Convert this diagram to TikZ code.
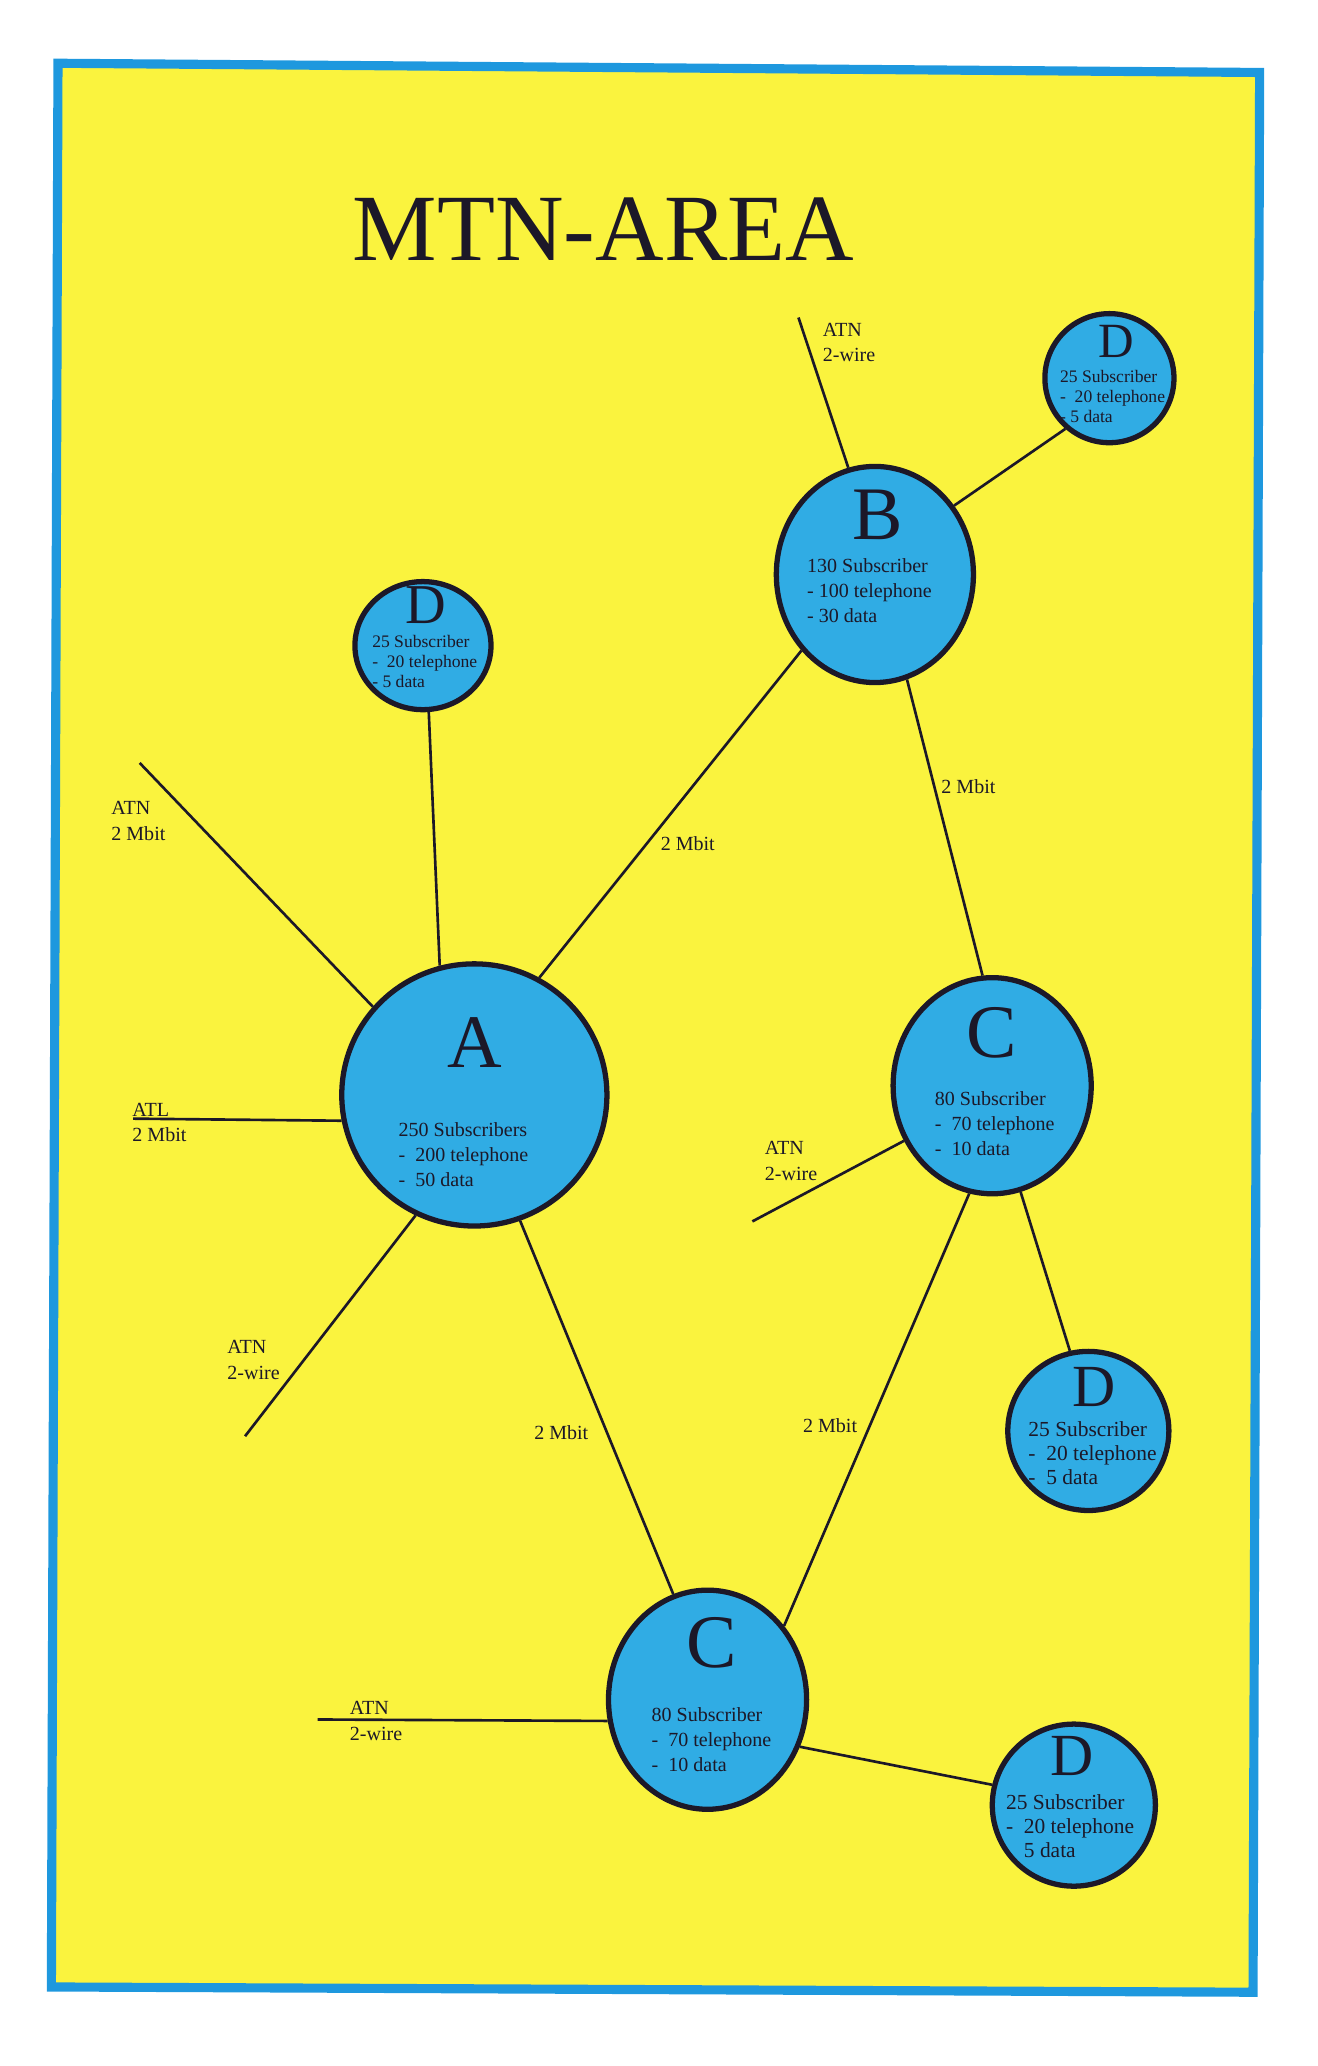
\documentclass[tikz,border=0pt]{standalone}
\usepackage{fontspec}
\setmainfont{Liberation Serif}
\usetikzlibrary{shapes.geometric}

\definecolor{areayellow}{RGB}{250,243,62}
\definecolor{areablue}{RGB}{30,152,222}
\definecolor{nodeblue}{RGB}{48,172,228}
\definecolor{inkdark}{RGB}{28,24,40}

\tikzset{
  exchange/.style={ellipse,draw=inkdark,line width=1.5pt,fill=nodeblue,inner sep=0pt},
  letter/.style={font=\fontsize{#1}{#1}\selectfont,text=inkdark,inner sep=0pt},
  info/.style={font=\fontsize{5.7}{7.1}\selectfont,align=left,anchor=west,text=inkdark,inner sep=0pt},
  smallinfo/.style={info,font=\fontsize{5}{5.6}\selectfont},
  biginfo/.style={info,font=\fontsize{6.1}{6.9}\selectfont},
  trunk/.style={draw=inkdark,line width=0.75pt},
  linklabel/.style={font=\fontsize{5.7}{7.3}\selectfont,align=left,text=inkdark,inner sep=0pt}
}

\begin{document}
\begin{tikzpicture}[x=0.01317cm,y=-0.01317cm]
  \useasboundingbox (0,0) rectangle (1000,1568);
  % area frame
  \filldraw[fill=areayellow,draw=areablue,line width=2.6pt] (44,48) -- (956,55) -- (951,1512) -- (39,1508) -- cycle;
  \node[font=\fontsize{27}{27}\selectfont,text=inkdark,inner sep=0pt] (title) at (458,174) {MTN-AREA};

  % exchanges
  \node[exchange,minimum width=2.65cm,minimum height=2.62cm] (A) at (360,831) {};
  \node[exchange,minimum width=1.97cm,minimum height=2.16cm] (B) at (664,436) {};
  \node[exchange,minimum width=1.98cm,minimum height=2.16cm] (Cr) at (753,824) {};
  \node[exchange,minimum width=1.98cm,minimum height=2.19cm] (Cb) at (537,1290) {};
  \node[exchange,minimum width=1.36cm,minimum height=1.28cm] (Dtl) at (321,490) {};
  \node[exchange,minimum width=1.29cm,minimum height=1.29cm] (Dtr) at (842,287) {};
  \node[exchange,minimum width=1.61cm,minimum height=1.59cm] (Dr) at (826,1086) {};
  \node[exchange,minimum width=1.63cm,minimum height=1.62cm] (Db) at (815,1370) {};

  \node[letter=21.5] (A-name) at ([shift={(0,-40)}]A.center) {A};
  \node[info] (A-info) at ([shift={(-58,45)}]A.center) {250 Subscribers\\-\ \ 200 telephone\\-\ \ 50 data};
  \node[letter=21.5] (B-name) at ([shift={(2,-45)}]B.center) {B};
  \node[info] (B-info) at ([shift={(-52,12)}]B.center) {130 Subscriber\\-\ 100 telephone\\-\ 30 data};
  \node[letter=21.5] (Cr-name) at ([shift={(0,-40)}]Cr.center) {C};
  \node[info] (Cr-info) at ([shift={(-44,29)}]Cr.center) {80 Subscriber\\-\ \ 70 telephone\\-\ \ 10 data};
  \node[letter=21.5] (Cb-name) at ([shift={(3,-43)}]Cb.center) {C};
  \node[info] (Cb-info) at ([shift={(-43,30)}]Cb.center) {80 Subscriber\\-\ \ 70 telephone\\-\ \ 10 data};
  \node[letter=16] (Dtl-name) at ([shift={(2,-31)}]Dtl.center) {D};
  \node[smallinfo] (Dtl-info) at ([shift={(-39,12)}]Dtl.center) {25 Subscriber\\-\ \ 20 telephone\\-\ 5 data};
  \node[letter=14] (Dtr-name) at ([shift={(5,-28)}]Dtr.center) {D};
  \node[smallinfo] (Dtr-info) at ([shift={(-38,14)}]Dtr.center) {25 Subscriber\\-\ \ 20 telephone\\-\ 5 data};
  \node[letter=17] (Dr-name) at ([shift={(4,-33)}]Dr.center) {D};
  \node[biginfo] (Dr-info) at ([shift={(-46,17)}]Dr.center) {25 Subscriber\\-\ \ 20 telephone\\-\ \ 5 data};
  \node[letter=17] (Db-name) at ([shift={(-1,-37)}]Db.center) {D};
  \node[biginfo] (Db-info) at ([shift={(-52,16)}]Db.center) {25 Subscriber\\-\ \ 20 telephone\\\hphantom{-}\ \ 5 data};

  % links between exchanges
  \draw[trunk] (A.105) -- (Dtl.275);
  \draw[trunk] (A.61) -- (B.226);
  \draw[trunk] (B.287) -- (Cr.95);
  \draw[trunk] (B.41) -- (Dtr.229);
  \draw[trunk] (A.290) -- (Cb.108);
  \draw[trunk] (Cr.258) -- (Cb.44);
  \draw[trunk] (Cr.285) -- (Dr.103);
  \draw[trunk] (Cb.333) -- (Db.166);

  \node[linklabel] (ab-rate) at (522,640) {2 Mbit};
  \node[linklabel] (bc-rate) at (735,597) {2 Mbit};
  \node[linklabel] (ac-rate) at (426,1087) {2 Mbit};
  \node[linklabel] (cc-rate) at (630,1082) {2 Mbit};

  % outgoing lines
  \coordinate (B-out) at (606,241);
  \coordinate (A-out1) at (106,579);
  \coordinate (A-out2) at (101,849);
  \coordinate (A-out3) at (186,1090);
  \coordinate (Cr-out) at (571,927);
  \coordinate (Cb-out) at (241,1305);
  \draw[trunk] (B.104) -- (B-out);
  \draw[trunk] (A.139) -- (A-out1);
  \draw[trunk] (A.191) -- (A-out2);
  \draw[trunk] (A.244) -- (A-out3);
  \draw[trunk] (Cr.212) -- (Cr-out);
  \draw[trunk] (Cb.192) -- (Cb-out);

  \node[linklabel,anchor=west] (B-out-text) at (624,260) {ATN\\2-wire};
  \node[linklabel,anchor=west] (A-out1-text) at (84,623) {ATN\\2 Mbit};
  \node[linklabel,anchor=west] (A-out2-text) at (100,852) {ATL\\2 Mbit};
  \node[linklabel,anchor=west] (A-out3-text) at (172,1032) {ATN\\2-wire};
  \node[linklabel,anchor=west] (Cr-out-text) at (580,881) {ATN\\2-wire};
  \node[linklabel,anchor=west] (Cb-out-text) at (265,1306) {ATN\\2-wire};
\end{tikzpicture}
\end{document}
